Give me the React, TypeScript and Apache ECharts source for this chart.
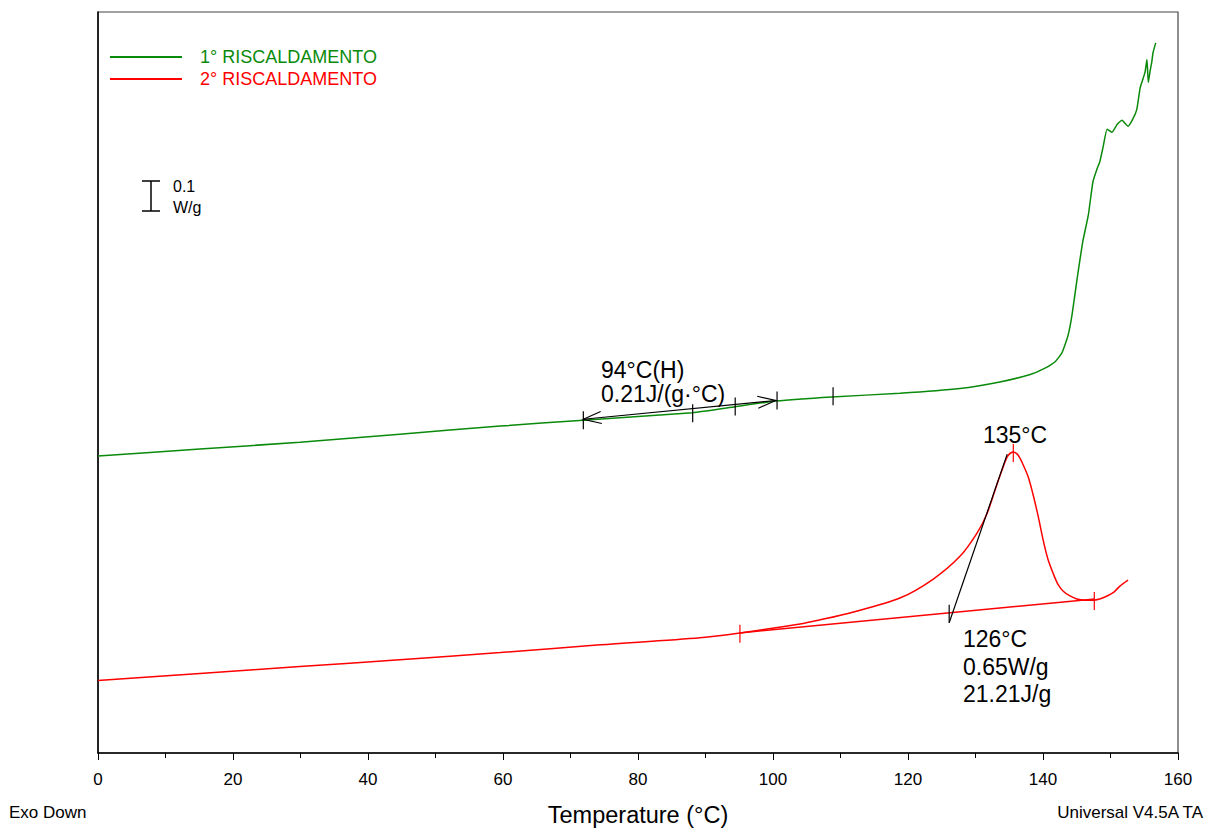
import React, { useEffect, useRef } from "react";
import * as echarts from "echarts";

// Temperature (°C) vs heat flow (W/g, offset scale)
const heating1: [number, number][] = [
  [0, 0.997], [15.1, 1.02], [29.9, 1.043], [44.7, 1.07], [59.6, 1.097], [71.9, 1.117],
  [88.1, 1.142], [94.4, 1.162], [100.4, 1.181], [108.7, 1.195], [118.8, 1.207], [127.7, 1.223],
  [133.6, 1.245], [138.1, 1.27], [140.0, 1.288], [141.8, 1.313], [142.8, 1.343], [143.7, 1.4],
  [144.3, 1.47], [145.0, 1.583], [145.9, 1.717], [146.7, 1.803], [147.4, 1.917], [148.0, 1.96],
  [148.4, 1.983], [148.9, 2.033], [149.5, 2.093], [150.2, 2.083], [151.0, 2.11], [151.7, 2.123],
  [152.6, 2.103], [153.3, 2.127], [153.9, 2.16], [154.4, 2.233], [155.1, 2.283], [155.4, 2.327],
  [155.6, 2.25], [155.9, 2.293], [156.1, 2.317], [156.3, 2.35], [156.7, 2.383],
];

const heating2: [number, number][] = [
  [0, 0.243], [15.1, 0.267], [29.9, 0.29], [44.7, 0.313], [59.6, 0.337], [74.4, 0.363],
  [89.2, 0.387], [95.1, 0.403], [104.0, 0.433], [107.0, 0.447], [111.4, 0.47], [118.8, 0.52],
  [123.7, 0.583], [127.7, 0.66], [130.2, 0.737], [131.7, 0.803], [133.2, 0.903], [134.1, 0.96],
  [134.8, 0.997], [135.6, 1.01], [136.3, 1.0], [137.0, 0.97], [137.8, 0.927], [138.5, 0.87],
  [139.3, 0.793], [140.0, 0.717], [140.7, 0.653], [141.5, 0.603], [142.2, 0.567], [143.0, 0.543],
  [144.0, 0.527], [145.0, 0.517], [146.2, 0.513], [147.4, 0.513], [148.4, 0.517], [149.5, 0.527],
  [150.5, 0.54], [151.4, 0.56], [152.6, 0.58],
];

const glassTangent: [number, number][] = [[71.9, 1.12], [100.4, 1.183]];
const peakBaseline: [number, number][] = [[95.1, 0.403], [147.7, 0.517]];
const onsetTangent: [number, number][] = [[126.1, 0.437], [134.7, 1.003]];

const glassTicks: [number, number][] = [[71.9, 1.117], [88.1, 1.14], [94.4, 1.163], [100.6, 1.183], [108.9, 1.197]];
const peakTicks: [number, number][] = [[95.1, 0.4], [135.6, 1.007], [147.6, 0.51]];
const onsetTicks: [number, number][] = [[126.1, 0.467]];

// arrow: tip T, tip value, tail T, tail value
const glassArrows: number[][] = [
  [71.9, 1.12, 100.4, 1.183],
  [100.4, 1.183, 71.9, 1.12],
];

const xTicks = [0, 20, 40, 60, 80, 100, 120, 140, 160];

const FONT = "'Liberation Sans', Arial, sans-serif";
const GREEN = "#0a8a0a";
const RED = "#ff0000";

function tickSeries(name: string, data: [number, number][], color: string) {
  return {
    name,
    type: "custom",
    data,
    encode: { x: 0, y: 1 },
    silent: true,
    renderItem: (_p: any, api: any) => {
      const c = api.coord([api.value(0), api.value(1)]);
      return {
        type: "line",
        shape: { x1: c[0], y1: c[1] - 9, x2: c[0], y2: c[1] + 9 },
        style: { stroke: color, lineWidth: 1.2 },
      };
    },
    z: 5,
  };
}

export default function App() {
  const ref = useRef<HTMLDivElement>(null);
  useEffect(() => {
    if (!ref.current) return;
    const chart = echarts.init(ref.current, undefined, { renderer: "svg" });
    const txt = (text: string, x: number, y: number, size: number, color = "#000", align = "left") => ({
      type: "text",
      x,
      y,
      silent: true,
      style: { text, fill: color, font: `${size}px ${FONT}`, align, verticalAlign: "middle" },
    });
    chart.setOption({
      animation: false,
      backgroundColor: "#fff",
      grid: { left: 98, right: 35, top: 12, bottom: 74, show: true, borderColor: "#444", borderWidth: 1.2 },
      legend: {
        orient: "vertical",
        left: 105,
        top: 43,
        itemWidth: 72,
        itemHeight: 2,
        itemGap: 4,
        icon: "rect",
        selectedMode: false,
        data: [
          { name: "1° RISCALDAMENTO", textStyle: { color: GREEN } },
          { name: "2° RISCALDAMENTO", textStyle: { color: RED } },
        ],
        textStyle: { fontFamily: FONT, fontSize: 18, padding: [0, 0, 0, 13] },
      },
      xAxis: {
        type: "value",
        min: xTicks[0],
        max: xTicks[xTicks.length - 1],
        interval: 20,
        name: "Temperature (°C)",
        nameLocation: "middle",
        nameGap: 50,
        nameTextStyle: { fontFamily: FONT, fontSize: 23.5, color: "#000" },
        axisLine: { onZero: false, lineStyle: { color: "#000", width: 1.5 } },
        axisTick: { show: true, length: 7, lineStyle: { color: "#000" } },
        minorTick: { show: true, splitNumber: 2, length: 5, lineStyle: { color: "#000" } },
        axisLabel: { fontFamily: FONT, fontSize: 17, color: "#000", margin: 18 },
        splitLine: { show: false },
      },
      yAxis: {
        type: "value",
        min: 0,
        max: 746 / 300,
        axisLabel: { show: false },
        axisTick: { show: false },
        splitLine: { show: false },
        axisLine: { show: true, lineStyle: { color: "#000", width: 1.5 } },
      },
      series: [
        {
          name: "1° RISCALDAMENTO",
          type: "line",
          data: heating1,
          showSymbol: false,
          smooth: 0.15,
          lineStyle: { color: GREEN, width: 1.5 },
          itemStyle: { color: GREEN },
          z: 2,
        },
        {
          name: "2° RISCALDAMENTO",
          type: "line",
          data: heating2,
          showSymbol: false,
          smooth: 0.3,
          lineStyle: { color: RED, width: 1.5 },
          itemStyle: { color: RED },
          z: 2,
        },
        {
          name: "baseline",
          type: "line",
          data: peakBaseline,
          showSymbol: false,
          lineStyle: { color: RED, width: 1.5 },
          z: 3,
        },
        {
          name: "glass tangent",
          type: "line",
          data: glassTangent,
          showSymbol: false,
          lineStyle: { color: "#000", width: 1.2 },
          z: 4,
        },
        {
          name: "onset tangent",
          type: "line",
          data: onsetTangent,
          showSymbol: false,
          lineStyle: { color: "#000", width: 1.2 },
          z: 4,
        },
        {
          name: "arrows",
          type: "custom",
          data: glassArrows,
          encode: { x: [0, 2], y: [1, 3] },
          silent: true,
          renderItem: (_p: any, api: any) => {
            const tip = api.coord([api.value(0), api.value(1)]);
            const tail = api.coord([api.value(2), api.value(3)]);
            const dx = tip[0] - tail[0];
            const dy = tip[1] - tail[1];
            const len = Math.sqrt(dx * dx + dy * dy) || 1;
            const ux = dx / len, uy = dy / len;
            const px = -uy, py = ux;
            const back = 18, half = 6;
            return {
              type: "polyline",
              shape: {
                points: [
                  [tip[0] - ux * back + px * half, tip[1] - uy * back + py * half],
                  [tip[0], tip[1]],
                  [tip[0] - ux * back - px * half, tip[1] - uy * back - py * half],
                ],
              },
              style: { stroke: "#000", lineWidth: 1.2, fill: "none" },
            };
          },
          z: 5,
        },
        tickSeries("glass ticks", glassTicks, "#000"),
        tickSeries("peak ticks", peakTicks, RED),
        tickSeries("onset ticks", onsetTicks, "#000"),
      ],
      graphic: [
        // scale bar
        { type: "line", silent: true, shape: { x1: 151, y1: 181, x2: 151, y2: 211 }, style: { stroke: "#000", lineWidth: 1.5 } },
        { type: "line", silent: true, shape: { x1: 142, y1: 181, x2: 160, y2: 181 }, style: { stroke: "#000", lineWidth: 1.5 } },
        { type: "line", silent: true, shape: { x1: 142, y1: 211, x2: 160, y2: 211 }, style: { stroke: "#000", lineWidth: 1.5 } },
        txt("0.1", 173, 186, 16),
        txt("W/g", 173, 207, 16),
        // annotations
        txt("94°C(H)", 601, 370, 23),
        txt("0.21J/(g·°C)", 601, 394, 23),
        txt("135°C", 1015, 435, 23, "#000", "center"),
        txt("126°C", 963, 639, 23),
        txt("0.65W/g", 963, 667, 23),
        txt("21.21J/g", 963, 694, 23),
        // footer
        txt("Exo Down", 9, 812, 17),
        txt("Universal V4.5A TA", 1203, 812, 17, "#000", "right"),
      ],
    });
    return () => chart.dispose();
  }, []);
  return (
    <div
      ref={ref}
      style={{ position: "fixed", left: 0, top: 0, width: 1213, height: 832, background: "#fff" }}
    />
  );
}
